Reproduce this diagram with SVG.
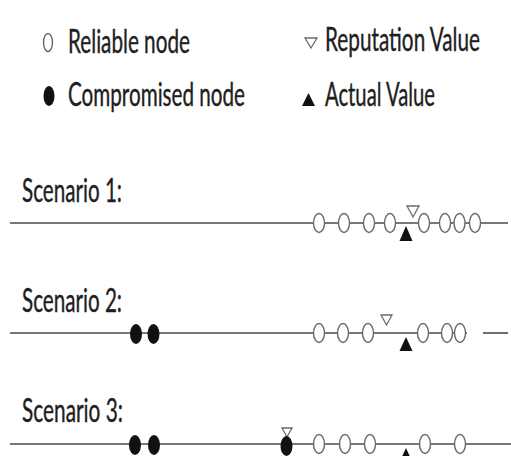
<svg xmlns="http://www.w3.org/2000/svg" width="511" height="456" viewBox="0 0 511 456">
<style>
.t{font-family:Lato,"Open Sans","Liberation Sans",sans-serif;font-size:32px;fill:#1e1e1e;stroke:#1e1e1e;stroke-width:0.4}
.r{fill:#fff;stroke:#6a6a6a;stroke-width:1.4}
.c{fill:#111;stroke:none}
.rv{fill:#fff;stroke:#6a6a6a;stroke-width:1.3}
.av{fill:#111}
.ln{stroke:#4a4a4a;stroke-width:1.6;fill:none}
</style>
<rect width="511" height="456" fill="#fff"/>
<g id="legend">
<ellipse class="r" cx="48" cy="42.5" rx="4.5" ry="9"/>
<text class="t" transform="translate(68,53) scale(0.72,1)" textLength="169.4" lengthAdjust="spacingAndGlyphs">Reliable node</text>
<polygon class="rv" points="305,38 317,38 311,48"/>
<text class="t" transform="translate(325,51) scale(0.72,1)" textLength="215.3" lengthAdjust="spacingAndGlyphs">Reputation Value</text>
<ellipse class="c" cx="49" cy="96" rx="5.5" ry="10"/>
<text class="t" transform="translate(68,106) scale(0.72,1)" textLength="245.8" lengthAdjust="spacingAndGlyphs">Compromised node</text>
<polygon class="av" points="308.5,93 315,106 302,106"/>
<text class="t" transform="translate(325,106) scale(0.72,1)" textLength="152.8" lengthAdjust="spacingAndGlyphs">Actual Value</text>
</g>
<g id="labels">
<text class="t" transform="translate(22,202) scale(0.72,1)" textLength="138.9" lengthAdjust="spacingAndGlyphs">Scenario 1:</text>
<text class="t" transform="translate(22,312) scale(0.72,1)" textLength="138.9" lengthAdjust="spacingAndGlyphs">Scenario 2:</text>
<text class="t" transform="translate(22,422) scale(0.72,1)" textLength="140.3" lengthAdjust="spacingAndGlyphs">Scenario 3:</text>
</g>
<g id="connectors">
<line class="ln" x1="10" y1="223" x2="508" y2="223"/>
<line class="ln" x1="10" y1="333" x2="467" y2="333"/>
<line class="ln" x1="483" y1="333" x2="508" y2="333"/>
<line class="ln" x1="10" y1="444" x2="511" y2="444"/>
</g>
<g id="scenario1">
<ellipse class="r" cx="319" cy="223" rx="5.5" ry="9.5"/>
<ellipse class="r" cx="344" cy="223" rx="5.5" ry="9.5"/>
<ellipse class="r" cx="369" cy="223" rx="5.5" ry="9.5"/>
<ellipse class="r" cx="390" cy="223" rx="5.5" ry="9.5"/>
<ellipse class="r" cx="424" cy="223" rx="5.5" ry="9.5"/>
<ellipse class="r" cx="445" cy="223" rx="5.5" ry="9.5"/>
<ellipse class="r" cx="459.5" cy="223" rx="5.5" ry="9.5"/>
<ellipse class="r" cx="475" cy="223" rx="5.5" ry="9.5"/>
<polygon class="rv" points="407,206 419,206 413,217"/>
<polygon class="av" points="406,226 412.5,241 399.5,241"/>
</g>
<g id="scenario2">
<ellipse class="c" cx="136" cy="334" rx="6" ry="10"/>
<ellipse class="c" cx="153.5" cy="334" rx="6" ry="10"/>
<ellipse class="r" cx="319" cy="333" rx="5.5" ry="9.5"/>
<ellipse class="r" cx="343" cy="333" rx="5.5" ry="9.5"/>
<ellipse class="r" cx="368" cy="333" rx="5.5" ry="9.5"/>
<ellipse class="r" cx="423" cy="333" rx="5.5" ry="9.5"/>
<ellipse class="r" cx="447" cy="333" rx="5.5" ry="9.5"/>
<ellipse class="r" cx="460" cy="333" rx="5.5" ry="9.5"/>
<polygon class="rv" points="381,315 392,315 386.5,325"/>
<polygon class="av" points="406,337 412.5,351 399.5,351"/>
</g>
<g id="scenario3">
<ellipse class="c" cx="135" cy="445" rx="6" ry="10"/>
<ellipse class="c" cx="154" cy="445" rx="6" ry="10"/>
<polygon class="rv" points="282,428 292,428 287,437"/>
<ellipse class="c" cx="286.5" cy="446" rx="6" ry="10"/>
<ellipse class="r" cx="319" cy="444" rx="5.5" ry="9.5"/>
<ellipse class="r" cx="345" cy="444" rx="5.5" ry="9.5"/>
<ellipse class="r" cx="370" cy="444" rx="5.5" ry="9.5"/>
<ellipse class="r" cx="425" cy="444" rx="5.5" ry="9.5"/>
<ellipse class="r" cx="460" cy="444" rx="5.5" ry="9.5"/>
<polygon class="av" points="406,448 412,461 400,461"/>
</g>
</svg>
